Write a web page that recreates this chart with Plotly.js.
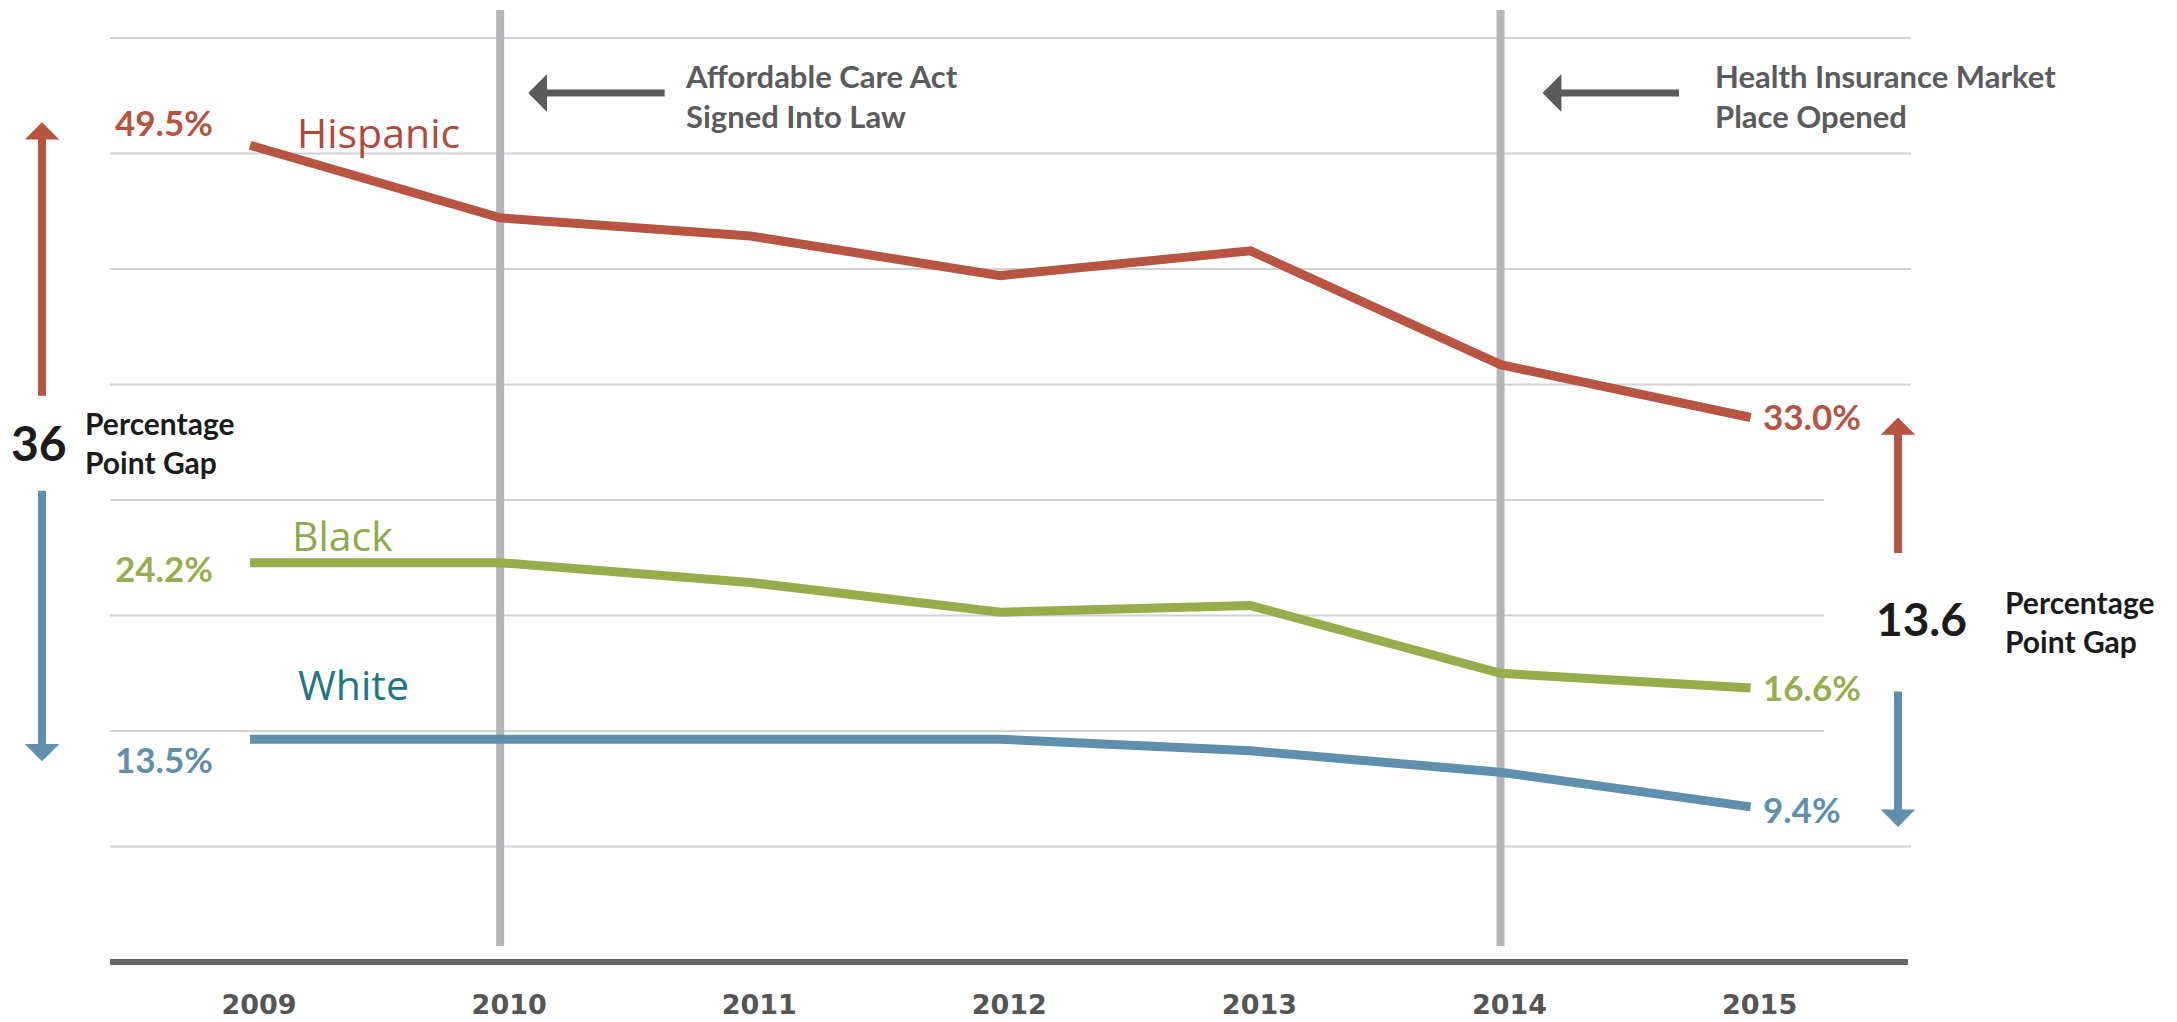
<!DOCTYPE html>
<html><head><meta charset="utf-8">
<script src="https://cdn.plot.ly/plotly-3.0.1.min.js"></script>
<style>html,body{margin:0;padding:0;background:#fff}#chart{width:2177px;height:1022px}</style>
</head><body><div id="chart"></div>
<script>
// ---- data ----
const years = [2009, 2010, 2011, 2012, 2013, 2014, 2015];
const hispanic = [49.5, 45.1, 44.0, 41.6, 43.1, 36.2, 33.0];
const black = [24.2, 24.2, 23.0, 21.2, 21.6, 17.5, 16.6];
const white = [13.5, 13.5, 13.5, 13.5, 12.8, 11.5, 9.4];
const seriesNames = ['Hispanic', 'Black', 'White'];
const gridValues = [7, 14, 21, 28, 35, 42, 49, 56];
const eventYears = [2010, 2014];
const eventLabels = ['Affordable Care Act<br>Signed Into Law', 'Health Insurance Market<br>Place Opened'];
const gapLabels = ['36', '13.6'];
const gapText = 'Percentage<br>Point Gap';

// ---- styling ----
const W = 2177, H = 1022, MB = 50, PH = H - MB;
const px = x => x / W;
const py = y => (PH - y) / PH;
const colors = {Hispanic: '#B75442', Black: '#96AD4B', White: '#5E8FAD'};
const nameColors = {Hispanic: '#B24A3B', Black: '#90A94A', White: '#1F7688'};
const pctColors = {Hispanic: '#B55441', Black: '#97AE4C', White: '#5E8FAD'};
const seriesData = {Hispanic: hispanic, Black: black, White: white};
const bold = {family: 'Lato, sans-serif', weight: 700};

const traces = seriesNames.map(n => ({
  x: years, y: seriesData[n], type: 'scatter', mode: 'lines', name: n,
  line: {color: colors[n], width: 9}, hoverinfo: 'skip'
}));

const shapes = [];
gridValues.forEach(v => {
  const short = (v === 14 || v === 21 || v === 28);
  shapes.push({type: 'line', xref: 'paper', yref: 'y', x0: px(110), x1: px(short ? 1824 : 1911),
    y0: v, y1: v, line: {color: '#D2D2D2', width: 2}, layer: 'below'});
});
eventYears.forEach(yr => {
  shapes.push({type: 'line', xref: 'x', yref: 'paper', x0: yr, x1: yr, y0: py(946), y1: py(10),
    line: {color: '#B4B4B9', width: 8}, layer: 'below'});
});
shapes.push({type: 'line', xref: 'paper', yref: 'y', x0: px(110), x1: px(1908), y0: 0, y1: 0,
  line: {color: '#676767', width: 6}, layer: 'below'});

const ann = [];
// series names
const nameShift = {Hispanic: [128, 13], Black: [92, 28], White: [103, 55]};
seriesNames.forEach(n => {
  ann.push({x: years[0], y: seriesData[n][0], xref: 'x', yref: 'y', text: n, showarrow: false,
    xshift: nameShift[n][0], yshift: nameShift[n][1], xanchor: 'center',
    font: {family: '"Open Sans", sans-serif', size: 41, color: nameColors[n]}});
});
// start / end value labels
const startShift = {Hispanic: 23, Black: -5, White: -20};
const endShift = {Hispanic: 2, Black: 1, White: -2};
seriesNames.forEach(n => {
  const d = seriesData[n];
  ann.push({x: years[0], y: d[0], xref: 'x', yref: 'y', text: d[0].toFixed(1) + '%', showarrow: false,
    xanchor: 'right', xshift: -35, yshift: startShift[n],
    font: Object.assign({size: 35, color: pctColors[n]}, bold)});
  ann.push({x: years[years.length - 1], y: d[d.length - 1], xref: 'x', yref: 'y',
    text: d[d.length - 1].toFixed(1) + '%', showarrow: false,
    xanchor: 'left', xshift: 10, yshift: endShift[n],
    font: Object.assign({size: 35, color: pctColors[n]}, bold)});
});
// event notes
const evTip = [28, 42], evText = [183, 212];
eventYears.forEach((yr, i) => {
  ann.push({x: yr, y: py(93), xref: 'x', yref: 'paper', xshift: evTip[i], text: '', showarrow: true,
    ax: 138, ay: 0, arrowhead: 1, arrowsize: 0.9, arrowwidth: 7, arrowcolor: '#5B5B5D', standoff: 0});
  ann.push({x: yr, y: py(96), xref: 'x', yref: 'paper', xshift: evText[i], xanchor: 'left', yanchor: 'middle',
    align: 'left', text: eventLabels[i], showarrow: false,
    font: {family: 'Lato, sans-serif', weight: 700, size: 31, color: '#5B5B5D'}});
});
// gap arrows
const n0 = 0, n1 = years.length - 1;
const gapArrows = [
  {x: 42, y: hispanic[n0], ys: 23, ay: 275, c: colors.Hispanic},
  {x: 42, y: white[n0], ys: -22, ay: -272, c: colors.White},
  {x: 1898, y: hispanic[n1], ys: 0, ay: 137, c: colors.Hispanic},
  {x: 1898, y: white[n1], ys: -20, ay: -137, c: colors.White}
];
gapArrows.forEach(g => {
  ann.push({x: px(g.x), y: g.y, xref: 'paper', yref: 'y', yshift: g.ys, text: '', showarrow: true,
    ax: 0, ay: g.ay, arrowhead: 1, arrowsize: 0.72, arrowwidth: 8, arrowcolor: g.c, standoff: 0});
});
// gap labels
const midL = (hispanic[n0] + white[n0]) / 2, midR = (hispanic[n1] + white[n1]) / 2;
ann.push({x: px(39), y: midL, xref: 'paper', yref: 'y', text: gapLabels[0], showarrow: false, xanchor: 'center',
  font: Object.assign({size: 48, color: '#1B1B1B'}, bold)});
ann.push({x: px(83), y: midL, xref: 'paper', yref: 'y', text: gapText, showarrow: false, xanchor: 'left',
  align: 'left', font: Object.assign({size: 30, color: '#1B1B1B'}, bold)});
ann.push({x: px(1921), y: midR, xref: 'paper', yref: 'y', yshift: -6, text: gapLabels[1], showarrow: false,
  xanchor: 'center', font: Object.assign({size: 46, color: '#1B1B1B'}, bold)});
ann.push({x: px(2003), y: midR, xref: 'paper', yref: 'y', yshift: -9, text: gapText, showarrow: false, xanchor: 'left',
  align: 'left', font: Object.assign({size: 30, color: '#1B1B1B'}, bold)});

const layout = {
  width: W, height: H, margin: {l: 0, r: 0, t: 0, b: MB},
  paper_bgcolor: '#fff', plot_bgcolor: '#fff', showlegend: false,
  xaxis: {range: [2008, 2016.705], tickmode: 'array', tickvals: years, ticktext: years.map(String),
    showgrid: false, zeroline: false, showline: false, ticks: 'outside', ticklen: 9,
    tickcolor: 'rgba(0,0,0,0)', ticklabelshift: 9,
    tickfont: {family: '"DejaVu Sans", sans-serif', size: 27, color: '#555', weight: 700}},
  yaxis: {range: [-0.606, 58.303], showgrid: false, zeroline: false, showticklabels: false, showline: false},
  shapes: shapes, annotations: ann
};
Plotly.newPlot('chart', traces, layout, {displayModeBar: false, staticPlot: true});
</script></body></html>
